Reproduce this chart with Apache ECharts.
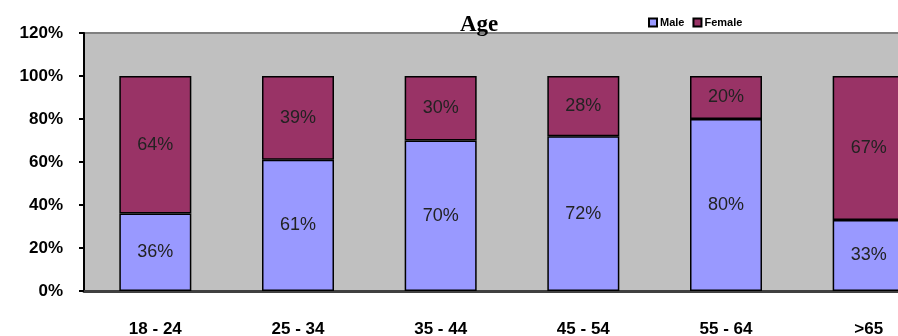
<!DOCTYPE html>
<html>
<head>
<meta charset="utf-8">
<script src="https://cdn.jsdelivr.net/npm/echarts@6/dist/echarts.min.js"></script>
<style>
  html, body { margin: 0; padding: 0; background: #ffffff; overflow: hidden; }
  #chart { width: 940px; height: 336px; }
</style>
</head>
<body>
<div id="chart"></div>
<script>
// Age groups along the x axis
const categories = ['18 - 24', '25 - 34', '35 - 44', '45 - 54', '55 - 64', '>65'];
// Share of each group, in percent
const maleValues = [36, 61, 70, 72, 80, 33];
const femaleValues = [64, 39, 30, 28, 20, 67];
// Value axis ticks
const yMin = 0, yMax = 120, yStep = 20;

const chart = echarts.init(document.getElementById('chart'), null, { renderer: 'canvas' });

const segmentLabel = {
  show: true,
  position: 'inside',
  formatter: p => p.value + '%',
  color: '#222222',
  fontFamily: 'Liberation Sans, Arial, sans-serif',
  fontSize: 18,
  fontWeight: 'normal'
};

chart.setOption({
  animation: false,
  title: {
    text: 'Age',
    left: 455,
    top: 9,
    textStyle: { fontFamily: 'Liberation Serif, Times New Roman, serif', fontWeight: 'bold', fontSize: 23, color: '#000' }
  },
  legend: {
    left: 643,
    top: 12,
    itemWidth: 8,
    itemHeight: 8,
    itemGap: 8,
    icon: 'rect',
    textStyle: { fontFamily: 'Liberation Sans, Arial, sans-serif', fontWeight: 'bold', fontSize: 11, color: '#000', padding: [0, 0, 0, -2] },
    data: ['Male', 'Female']
  },
  grid: {
    left: 84, right: 0, top: 33, bottom: 45,
    outerBoundsMode: 'none',
    containLabel: false,
    show: true,
    backgroundColor: '#C0C0C0',
    borderColor: '#808080',
    borderWidth: 2
  },
  xAxis: {
    type: 'category',
    data: categories,
    axisLine: { show: true, lineStyle: { color: '#404040', width: 3 } },
    axisTick: { show: false },
    axisLabel: {
      margin: 30,
      color: '#000',
      fontFamily: 'Liberation Sans, Arial, sans-serif',
      fontWeight: 'bold',
      fontSize: 17,
      interval: 0
    },
    splitLine: { show: false }
  },
  yAxis: {
    type: 'value',
    min: yMin,
    max: yMax,
    interval: yStep,
    axisLine: { show: true, lineStyle: { color: '#000', width: 2 } },
    axisTick: { show: true, length: 5, lineStyle: { color: '#000', width: 2 } },
    axisLabel: {
      formatter: '{value}%',
      margin: 21,
      color: '#000',
      fontFamily: 'Liberation Sans, Arial, sans-serif',
      fontWeight: 'bold',
      fontSize: 17
    },
    splitLine: { show: false }
  },
  series: [
    {
      name: 'Male',
      type: 'bar',
      stack: 'age',
      barWidth: 72,
      data: maleValues,
      itemStyle: { color: '#9999FF', borderColor: '#000', borderWidth: 1.5 },
      label: segmentLabel
    },
    {
      name: 'Female',
      type: 'bar',
      stack: 'age',
      barWidth: 72,
      data: femaleValues,
      itemStyle: { color: '#993366', borderColor: '#000', borderWidth: 1.5 },
      label: segmentLabel
    }
  ]
});
</script>
</body>
</html>
